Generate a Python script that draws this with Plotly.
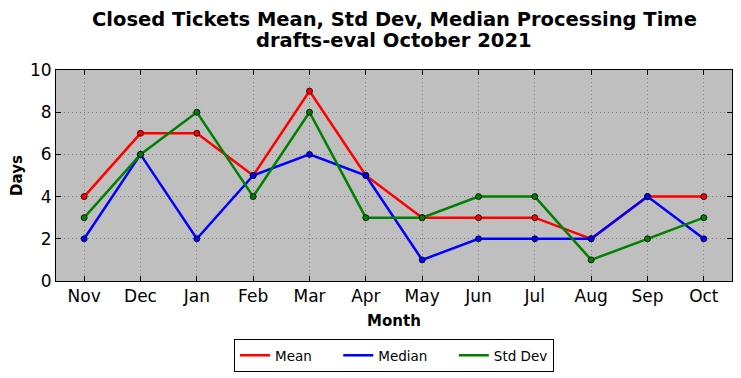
import plotly.graph_objects as go

months = ["Nov", "Dec", "Jan", "Feb", "Mar", "Apr", "May", "Jun", "Jul", "Aug", "Sep", "Oct"]
mean_vals = [4, 7, 7, 5, 9, 5, 3, 3, 3, 2, 4, 4]
median_vals = [2, 6, 2, 5, 6, 5, 1, 2, 2, 2, 4, 2]
std_vals = [3, 6, 8, 4, 8, 3, 3, 4, 4, 1, 2, 3]

series = [("Mean", mean_vals, "#ff0000"), ("Median", median_vals, "#0000ff"), ("Std Dev", std_vals, "#008000")]
NB = "\u00a0"
legend_labels = ["Mean" + NB * 5, "Median" + NB * 5, "Std Dev"]

# the page body adds an 8px offset; target pixel positions are shifted accordingly
OFF = 8
W, H = 741 - OFF, 378 - OFF
PLOT_TOP, PLOT_H = 70 - OFF, 211

fig = go.Figure()
for name, vals, col in series:
    fig.add_trace(go.Scatter(
        x=months, y=vals, name=name, mode="lines+markers", showlegend=False,
        line=dict(color=col, width=2.5),
        marker=dict(symbol="circle", size=6, color=col, line=dict(color="#000000", width=0.8)),
    ))
for (name, vals, col), lab in zip(series, legend_labels):
    fig.add_trace(go.Scatter(
        x=[None], y=[None], name=lab, mode="lines", showlegend=True,
        line=dict(color=col, width=2.5),
    ))

def ypaper(px):
    return (PLOT_TOP + PLOT_H - (px - OFF)) / PLOT_H

fig.add_annotation(text="<b>Closed Tickets Mean, Std Dev, Median Processing Time</b>",
                   xref="paper", yref="paper", x=0.5, y=ypaper(19), xanchor="center", yanchor="middle",
                   showarrow=False, font=dict(size=19.5))
fig.add_annotation(text="<b>drafts-eval October 2021</b>",
                   xref="paper", yref="paper", x=0.5, y=ypaper(40.5), xanchor="center", yanchor="middle",
                   showarrow=False, font=dict(size=19.5))

fig.update_layout(
    width=W, height=H,
    paper_bgcolor="white", plot_bgcolor="#bfbfbf",
    margin=dict(l=56 - OFF, r=9, t=PLOT_TOP, b=H - PLOT_TOP - PLOT_H, autoexpand=False),
    font=dict(family="DejaVu Sans", color="black"),
    showlegend=True,
    legend=dict(orientation="h", x=0.5, xanchor="center", xref="paper",
                y=(H - (355.5 - OFF)) / H, yanchor="middle", yref="container",
                bordercolor="black", borderwidth=1, font=dict(size=13.5),
                bgcolor="white", tracegroupgap=0),
)
fig.update_xaxes(
    type="category", range=[-0.5, 11.5], tickangle=0,
    title=dict(text="<b>Month</b>", font=dict(size=15), standoff=10),
    tickfont=dict(size=17), showgrid=True, gridcolor="#7f7f7f", griddash="1px,3px", gridwidth=1,
    showline=True, linecolor="black", linewidth=1, mirror="ticks", ticks="inside", ticklen=5,
    tickcolor="black", zeroline=False,
)
fig.update_yaxes(
    range=[0, 10], dtick=2,
    title=dict(text="<b>Days</b>", font=dict(size=15), standoff=10),
    tickfont=dict(size=17), showgrid=True, gridcolor="#7f7f7f", griddash="1px,3px", gridwidth=1,
    showline=True, linecolor="black", linewidth=1, mirror="ticks", ticks="inside", ticklen=5,
    tickcolor="black", zeroline=False,
)

fig.write_html("out.html")
